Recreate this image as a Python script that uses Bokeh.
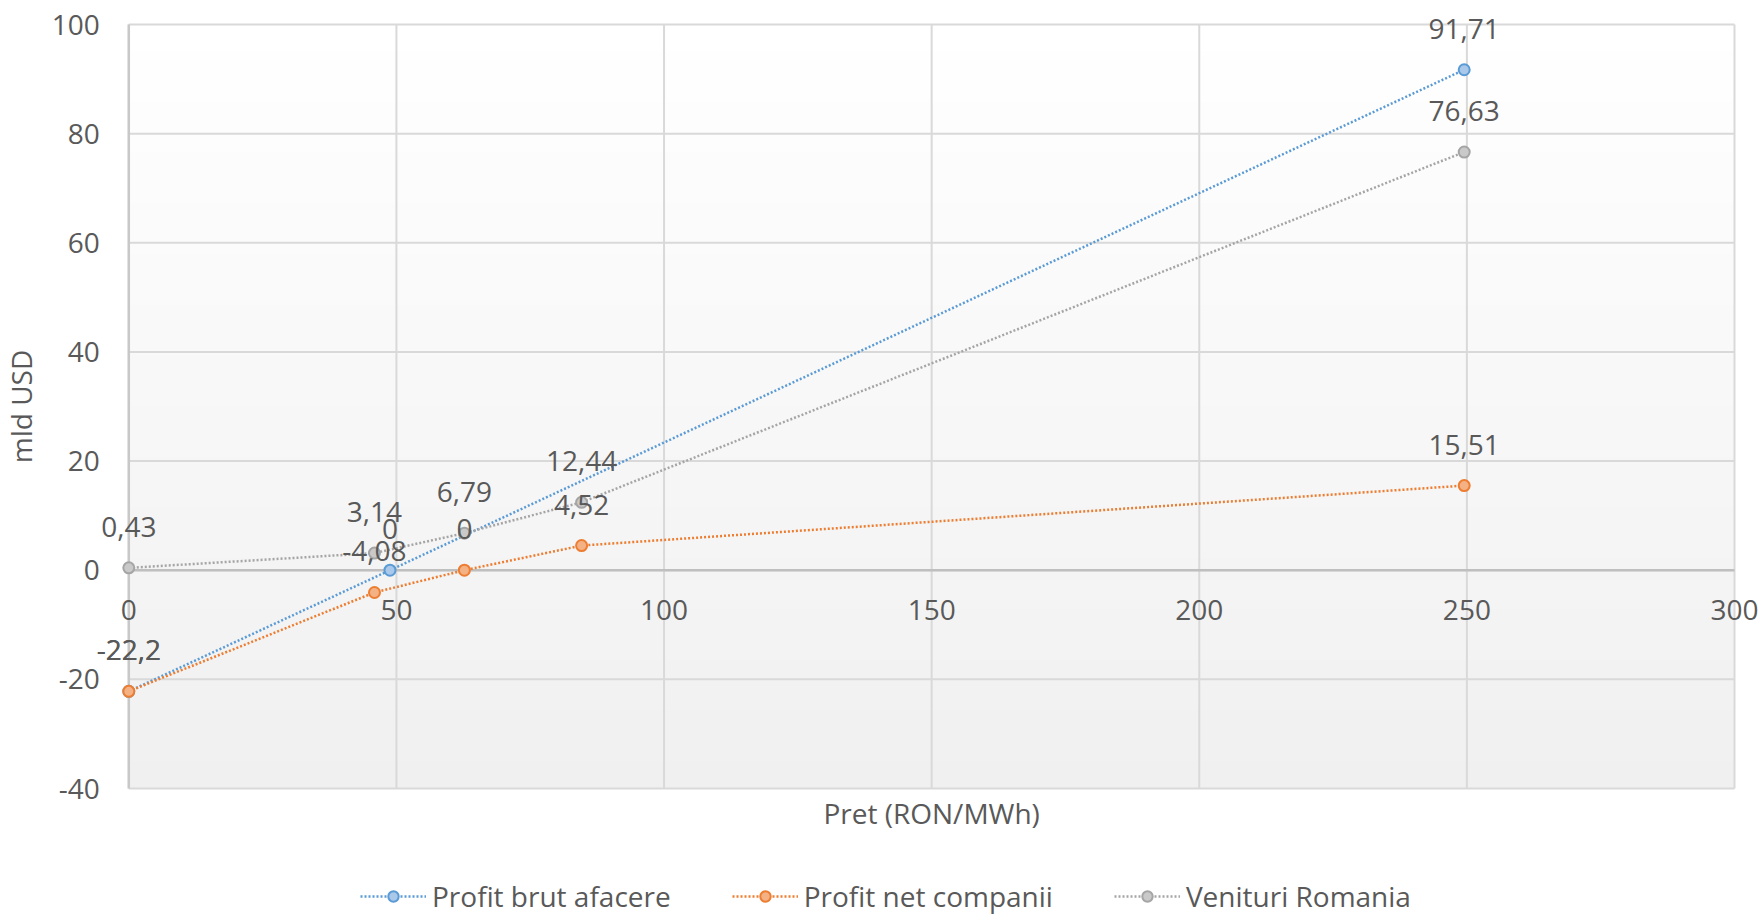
import numpy as np
from bokeh.plotting import figure
from bokeh.models import Range1d, Legend, LegendItem
from bokeh.core.properties import value
from bokeh.embed import file_html
from bokeh.resources import INLINE

# ---- data ----
series_names = ["Profit brut afacere", "Profit net companii", "Venituri Romania"]
brut_x = [0, 48.8, 249.5]
brut_y = [-22.2, 0, 91.71]
brut_lbl = ["-22,2", "0", "91,71"]
net_x = [0, 45.9, 62.7, 84.6, 249.5]
net_y = [-22.2, -4.08, 0, 4.52, 15.51]
net_lbl = ["-22,2", "-4,08", "0", "4,52", "15,51"]
ven_x = [0, 45.9, 62.7, 84.6, 249.5]
ven_y = [0.43, 3.14, 6.79, 12.44, 76.63]
ven_lbl = ["0,43", "3,14", "6,79", "12,44", "76,63"]
x_ticks = [0, 50, 100, 150, 200, 250, 300]
y_ticks = [-40, -20, 0, 20, 40, 60, 80, 100]
x_tick_labels = [str(t) for t in x_ticks]
y_tick_labels = [str(t) for t in y_ticks]
x_title = "Pret (RON/MWh)"
y_title = "mld USD"
XMIN, XMAX, YMIN, YMAX = 0, 300, -40, 100

# ---- style / layout ----
FONT = "Open Sans"
TXT = "#595959"
FS = "28px"
GRID = "#d9d9d9"
line_colors = ["#5b9bd5", "#ed7d31", "#a5a5a5"]
fill_colors = ["#a9c8ea", "#f4b183", "#c9c9c9"]

W, H = 1759, 915
BOX_L, BOX_R, BOX_T, BOX_B = 128.3, 1734.0, 24.0, 788.0
kx = (BOX_R - BOX_L) / (XMAX - XMIN)
ky = (BOX_B - BOX_T) / (YMAX - YMIN)

p = figure(width=W, height=H, output_backend="svg", toolbar_location=None,
           x_range=Range1d(XMIN - BOX_L / kx, XMAX + (W - BOX_R) / kx),
           y_range=Range1d(YMIN - (H - BOX_B) / ky, YMAX + BOX_T / ky),
           min_border=0, min_border_left=0, min_border_right=0,
           min_border_top=0, min_border_bottom=0,
           x_axis_location=None, y_axis_location=None)
p.background_fill_color = "white"
p.border_fill_color = "white"
p.outline_line_color = None
for g in list(p.xgrid) + list(p.ygrid):
    g.visible = False

# background gradient inside the chart box (white top -> light gray bottom)
n = 256
img = np.empty((n, 1), dtype=np.uint32)
view = img.view(dtype=np.uint8).reshape((n, 1, 4))
for i in range(n):
    t = i / (n - 1)
    c = int(round(240 + 15 * t))
    view[i, 0, 0] = c
    view[i, 0, 1] = c
    view[i, 0, 2] = c
    view[i, 0, 3] = 255
p.image_rgba(image=[img], x=XMIN, y=YMIN, dw=XMAX - XMIN, dh=YMAX - YMIN)

# grid lines bounded to the chart box
p.segment(x0=x_ticks, y0=[YMIN] * len(x_ticks), x1=x_ticks, y1=[YMAX] * len(x_ticks),
          line_color=GRID, line_width=2)
p.segment(x0=[XMIN] * len(y_ticks), y0=y_ticks, x1=[XMAX] * len(y_ticks), y1=y_ticks,
          line_color=GRID, line_width=2)
# axis lines
p.segment(x0=[XMIN], y0=[0], x1=[XMAX], y1=[0], line_color="#bfbfbf", line_width=2.5)
p.segment(x0=[0], y0=[YMIN], x1=[0], y1=[YMAX], line_color="#c8c8c8", line_width=2.5)

# series
data = [(brut_x, brut_y, brut_lbl), (net_x, net_y, net_lbl), (ven_x, ven_y, ven_lbl)]
items = []
for (xs, ys, lb), name, lc, fc in zip(data, series_names, line_colors, fill_colors):
    lr = p.line(xs, ys, line_color=lc, line_width=2.5, line_dash="2 2")
    sr = p.scatter(xs, ys, size=11, marker="circle", line_color=lc, line_width=2,
                   fill_color=fc)
    items.append(LegendItem(label=name, renderers=[lr, sr]))

for (xs, ys, lb) in data:
    p.text(xs, ys, text=lb, text_font=value(FONT), text_font_size=FS,
           text_color=TXT, text_align="center", text_baseline="middle",
           y_offset=-41)

# tick labels
p.text(x=x_ticks, y=[0] * len(x_ticks), text=x_tick_labels, text_font=value(FONT),
       text_font_size=FS, text_color=TXT, text_align="center",
       text_baseline="middle", y_offset=40)
p.text(x=[XMIN] * len(y_ticks), y=y_ticks, text=y_tick_labels, text_font=value(FONT),
       text_font_size=FS, text_color=TXT, text_align="right",
       text_baseline="middle", x_offset=-29)

# axis titles
p.text(x=[(XMIN + XMAX) / 2], y=[YMIN - 24 / ky], text=[x_title], text_font=value(FONT),
       text_font_size=FS, text_color=TXT, text_align="center", text_baseline="middle")
p.text(x=[XMIN - (BOX_L - 20) / kx], y=[(YMIN + YMAX) / 2], text=[y_title],
       angle=np.pi / 2, text_font=value(FONT), text_font_size=FS, text_color=TXT,
       text_align="center", text_baseline="middle")

legend = Legend(items=items, orientation="horizontal", location=(360, 0),
                glyph_width=66, glyph_height=26, label_standoff=6, spacing=61,
                padding=0, margin=0, border_line_color=None,
                background_fill_alpha=0, label_text_font=FONT,
                label_text_font_size=FS, label_text_color=TXT)
p.add_layout(legend, "center")

open("out.html", "w").write(file_html(p, INLINE))
